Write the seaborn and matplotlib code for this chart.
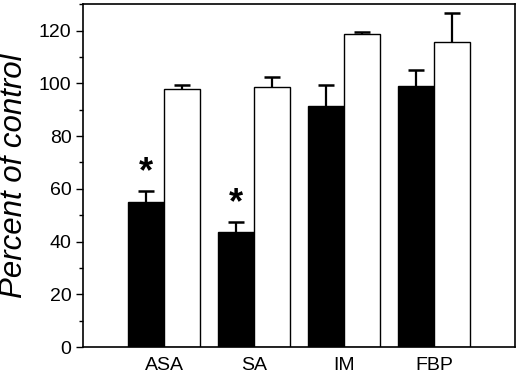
import numpy as np
import pandas as pd
import seaborn as sns
import matplotlib.pyplot as plt
from matplotlib.ticker import MultipleLocator

# groups on the x axis
drugs = ["ASA", "SA", "IM", "FBP"]

# black bars (treated) and white bars (control), percent of control
treated = [55, 43.5, 91.5, 99]
treated_err = [4, 4, 7.8, 6]
control = [98, 98.7, 118.6, 115.6]
control_err = [1.2, 3.8, 1, 11]

# significance marks on the black bars
stars = ["*", "*", "", ""]

df = pd.DataFrame({
    "drug": drugs * 2,
    "group": ["treated"] * 4 + ["control"] * 4,
    "value": treated + control,
})

plt.rcParams["font.family"] = ["Liberation Sans", "DejaVu Sans"]

fig = plt.figure(figsize=(5.2, 3.79), dpi=100)
ax = fig.add_axes([0.16, 0.084, 0.83, 0.905])

sns.barplot(data=df, x="drug", y="value", hue="group",
            hue_order=["treated", "control"], palette=["black", "white"],
            edgecolor="black", linewidth=1, width=0.8, errorbar=None,
            legend=False, ax=ax)

# upward-only error bars, placed on the bars seaborn drew
bars = ax.patches[:8]
errs = treated_err + control_err
cap = 0.085
for bar, err in zip(bars, errs):
    xc = bar.get_x() + bar.get_width() / 2
    h = bar.get_height()
    ax.vlines(xc, h, h + err, color="black", linewidth=1.6, zorder=1)
    ax.hlines(h + err, xc - cap, xc + cap, color="black", linewidth=1.8,
              zorder=1)

for bar, err, s in zip(bars[:4], treated_err, stars):
    if s:
        xc = bar.get_x() + bar.get_width() / 2
        ax.text(xc, bar.get_height() + err + 7, s, ha="center",
                va="center", fontsize=26, fontweight="bold")

ax.set_xlim(-0.9, 3.9)
ax.set_ylim(0, 130)
ax.yaxis.set_major_locator(MultipleLocator(20))
ax.yaxis.set_minor_locator(MultipleLocator(10))
ax.tick_params(axis="y", which="major", length=5, width=1, labelsize=14)
ax.tick_params(axis="y", which="minor", length=3, width=1)
ax.tick_params(axis="x", length=0, labelsize=14, pad=7)
ax.set_xlabel("")
ax.set_ylabel("Percent of control", fontsize=22.5, style="italic", labelpad=7)
for sp in ax.spines.values():
    sp.set_linewidth(1.2)

fig.savefig("out.png", dpi=100)
